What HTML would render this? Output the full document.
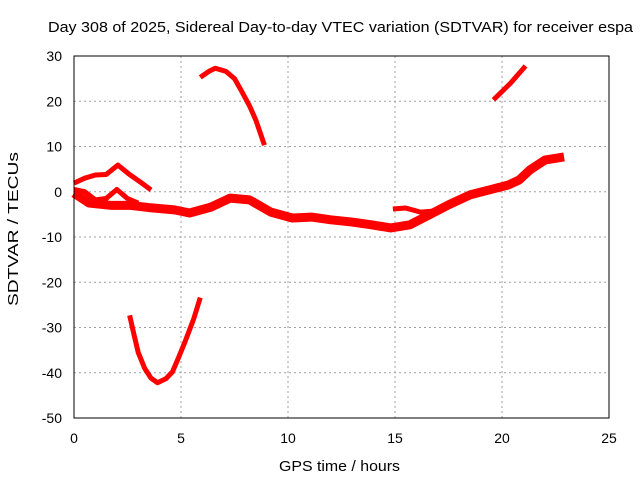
<!DOCTYPE html>
<html><head><meta charset="utf-8"><style>
html,body{margin:0;padding:0;background:#fff}
svg{display:block;font-family:"Liberation Sans",sans-serif}
</style></head><body>
<svg id="chart" width="640" height="480">
<text x="48" y="32" font-size="15" textLength="585" lengthAdjust="spacingAndGlyphs">Day 308 of 2025, Sidereal Day-to-day VTEC variation (SDTVAR) for receiver espa</text>
<text x="279" y="471" font-size="15" textLength="121" lengthAdjust="spacingAndGlyphs">GPS time / hours</text>
<text transform="translate(18,306) rotate(-90)" font-size="15" textLength="154" lengthAdjust="spacingAndGlyphs">SDTVAR / TECUs</text>
<g id="grid"></g><g id="ticks"></g><g id="marks"></g>
<rect x="74" y="56" width="535" height="362" fill="none" stroke="#000" stroke-width="1"/>
</svg>
<script>
const xTicks=[0,5,10,15,20,25];
const yTicks=[30,20,10,0,-10,-20,-30,-40,-50];
const bandX=[0,0.7,1.7,2.6,3.5,4.7,5.4,6.4,7.3,8.2,9.2,10.2,11.1,12.0,13.0,13.9,14.8,15.7,16.6,17.5,18.5,19.4,20.3,20.8,21.3,22.0,22.9];
const bandY=[-0.3,-2.5,-3,-3,-3.5,-4,-4.7,-3.4,-1.4,-1.8,-4.5,-5.8,-5.6,-6.2,-6.7,-7.3,-8,-7.3,-5.1,-2.9,-0.7,0.4,1.5,2.6,4.8,7,7.7];
const upBranchX=[0,0.5,1,1.5,2.05,2.6,3.2,3.6];
const upBranchY=[1.9,3,3.7,3.8,5.9,3.8,1.8,0.4];
const lowBranchX=[0,0.5,1.0,1.5,2.0,2.5,3.0];
const lowBranchY=[0.5,0,-1.8,-1.5,0.5,-1.5,-2.5];
const sideX=[14.9,15.5,16.2,17.0,17.8];
const sideY=[-3.8,-3.6,-4.5,-4.2,-2.6];
const arcX=[5.9,6.3,6.6,7.1,7.5,7.8,8.2,8.5,8.9];
const arcY=[25.3,26.6,27.3,26.6,25,22.5,19,15.8,10.3];
const uX=[2.6,2.8,3.0,3.3,3.6,3.9,4.3,4.6,4.9,5.2,5.6,5.9];
const uY=[-27.3,-31.5,-35.5,-39,-41.2,-42.2,-41.3,-39.8,-36.5,-33,-28,-23.4];
const trX=[19.6,20.4,21.1];
const trY=[20.3,24,27.8];
const NS='http://www.w3.org/2000/svg';
const sx=v=>74+v*535/25, sy=v=>56+(30-v)*362/80;
const grid=document.getElementById('grid'),ticks=document.getElementById('ticks'),marks=document.getElementById('marks');
function mk(tag,attrs,parent){const e=document.createElementNS(NS,tag);for(const k in attrs)e.setAttribute(k,attrs[k]);parent.appendChild(e);return e;}
xTicks.forEach(t=>{
 if(t>0&&t<25){const g=mk('line',{x1:sx(t),x2:sx(t),y1:56,y2:418,stroke:'#a0a0a0','stroke-dasharray':'2,3'},grid);
 
 }
 const l=mk('text',{x:sx(t),y:443,'font-size':14,'text-anchor':'middle'},ticks);l.textContent=t;
 
 
});
yTicks.forEach(t=>{
 if(t<30&&t>-50){const g=mk('line',{x1:74,x2:609,y1:sy(t),y2:sy(t),stroke:'#a0a0a0','stroke-dasharray':'2,3'},grid);
 
 }
 const l=mk('text',{x:62,y:sy(t)+5,'font-size':14,'text-anchor':'end'},ticks);l.textContent=t;
 
 
});
function series(xs,ys,w,name){
 const p=mk('polyline',{points:xs.map((x,i)=>sx(x)+','+sy(ys[i])).join(' '),fill:'none',stroke:'#ff0000','stroke-width':w,'stroke-linejoin':'round','stroke-linecap':'butt'},marks);
 
 
}
series(bandX,bandY,9,'main-band-series');
series(upBranchX,upBranchY,5,'upper-branch-series');
series(lowBranchX,lowBranchY,5,'lower-branch-series');
series(sideX,sideY,5,'side-branch-series');
series(arcX,arcY,5,'arc-series');
series(uX,uY,5,'u-curve-series');
series(trX,trY,5,'top-right-series');
</script>
</body></html>
